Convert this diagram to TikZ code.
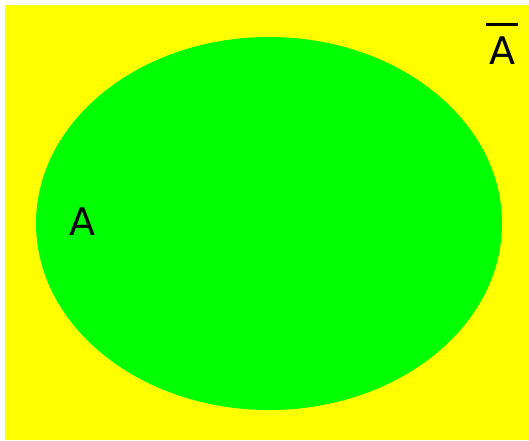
\documentclass[tikz,border=0pt]{standalone}
\usepackage{fontspec}
\setmainfont{DejaVu Sans}
\definecolor{setyellow}{RGB}{255,255,0}
\definecolor{setgreen}{RGB}{0,255,0}
\begin{document}
\begin{tikzpicture}[x=1pt,y=-1pt,
  lbl/.style={font=\fontsize{38}{40}\selectfont, inner sep=0pt, anchor=base}]
\useasboundingbox (0,0) rectangle (529,440);
\fill[white] (0,0) rectangle (529,440);
\fill[setyellow] (5,5) rectangle (529,440);
\fill[setgreen] (269,223.5) ellipse [x radius=233, y radius=186.5];
\node[lbl] (a) at (82,235) {A};
\node[lbl] (abar) at (502,64) {\setbox0\hbox{A}\vbox{\hbox to \wd0{\hss\vrule width 32pt height 2.5pt depth 0pt\hss}\nointerlineskip\vskip 10.5pt\box0}};
\end{tikzpicture}
\end{document}
